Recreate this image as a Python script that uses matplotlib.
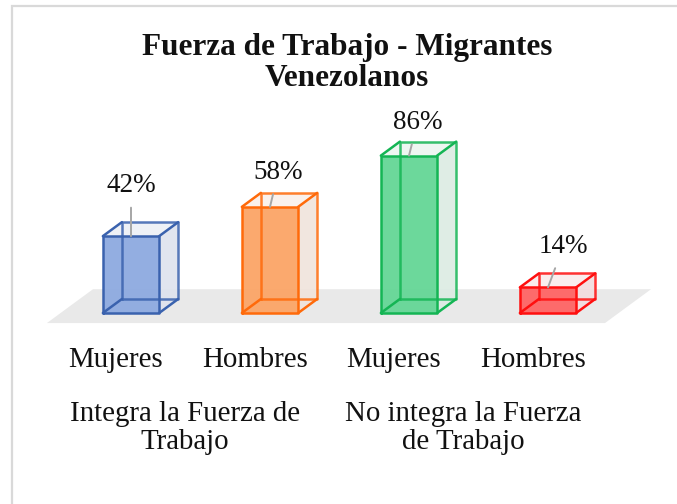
import matplotlib.pyplot as plt
from matplotlib.patches import Polygon, Rectangle

# data
categories = ['Mujeres', 'Hombres', 'Mujeres', 'Hombres']
groups = ['Integra la Fuerza de\nTrabajo', 'No integra la Fuerza\nde Trabajo']
values = [42, 58, 86, 14]
value_labels = ['42%', '58%', '86%', '14%']

edge_colors = ['#3A62AE', '#FF6A0A', '#14B554', '#FF0F0F']
face_colors = ['#8DAAE0', '#FBA566', '#64D696', '#FF6464']
side_colors = ['#DEE3EE', '#F0E4DC', '#DCEBE3', '#F2DCDE']
top_colors = ['#EDF0F6', '#FAF0EA', '#EDF5F0', '#FAEBEC']
label_offsets = [(0, 36.5), (6, 25), (6, 24), (11, 29.5)]  # points

plt.rcParams['font.family'] = ['Liberation Serif', 'DejaVu Serif']

fig = plt.figure(figsize=(6.77, 5.04), dpi=100)
ax = fig.add_axes([0, 0, 1, 1])
ax.set_xlim(-131 / 139, (677 - 131) / 139)
ax.set_ylim((313 - 504) / 1.83, 313 / 1.83)
ax.axis('off')

# chart border (left and top only visible)
fig.patches.append(Rectangle((11.5 / 677, -0.1), 1.2, 1.1 - 6 / 504, transform=fig.transFigure,
                             fill=False, edgecolor='#D9D9D9', lw=1.6))

width = 0.405
ddx, ddy = 0.137, 7.65  # depth offset of the boxes

# floor
fl, fr, ff = -0.605, 3.41, -5.5
fdx, fdy = ddx * 2.42, ddy * 2.42
ax.add_patch(Polygon([(fl, ff), (fr, ff), (fr + fdx, ff + fdy), (fl + fdx, ff + fdy)],
                     closed=True, facecolor='#E9E9E9', edgecolor='none', zorder=1))

for i, v in enumerate(values):
    x0, x1 = i - width / 2, i + width / 2
    ec, fc = edge_colors[i], face_colors[i]
    # right side and top faces
    ax.add_patch(Polygon([(x1, 0), (x1 + ddx, ddy), (x1 + ddx, v + ddy), (x1, v)],
                         facecolor=side_colors[i], alpha=0.9, edgecolor='none', zorder=2))
    ax.add_patch(Polygon([(x0, v), (x1, v), (x1 + ddx, v + ddy), (x0 + ddx, v + ddy)],
                         facecolor=top_colors[i], alpha=0.9, edgecolor='none', zorder=2))
    # front face
    ax.add_patch(Rectangle((x0, 0), width, v, facecolor=fc, alpha=0.95,
                           edgecolor='none', zorder=3))
    # box edges
    kw = dict(color=ec, lw=1.8, zorder=4, solid_capstyle='round')
    ax.plot([x0, x1, x1, x0, x0], [0, 0, v, v, 0], **kw)
    ax.plot([x0 + ddx, x1 + ddx, x1 + ddx, x0 + ddx, x0 + ddx],
            [ddy, ddy, v + ddy, v + ddy, ddy], alpha=0.85, **kw)
    for xx, yy in [(x0, 0), (x1, 0), (x1, v), (x0, v)]:
        ax.plot([xx, xx + ddx], [yy, yy + ddy], **kw)
    # data label with leader line
    ax.annotate(value_labels[i], xy=(i, v), xytext=label_offsets[i], textcoords='offset points',
                ha='center', va='center', fontsize=19.5, color='#111111', zorder=5,
                arrowprops=dict(arrowstyle='-', color='#A6A6A6', lw=1.4, shrinkA=5, shrinkB=0))
    # category label
    ax.annotate(categories[i], xy=(i, 0), xytext=(-11, -34), textcoords='offset points',
                ha='center', va='center', fontsize=20.8, color='#111111')

for g, name in enumerate(groups):
    ax.annotate(name, xy=(2 * g + 0.5, 0), xytext=(-11, -83), textcoords='offset points',
                ha='center', va='center', fontsize=20.8, color='#111111',
                multialignment='center', linespacing=1.12)

fig.text(347 / 677, 1 - 63 / 504, 'Fuerza de Trabajo - Migrantes\nVenezolanos',
         ha='center', va='center', fontsize=22.5, fontweight='bold', color='#111111',
         linespacing=1.08)

fig.savefig('out.png', dpi=100, facecolor='white')
